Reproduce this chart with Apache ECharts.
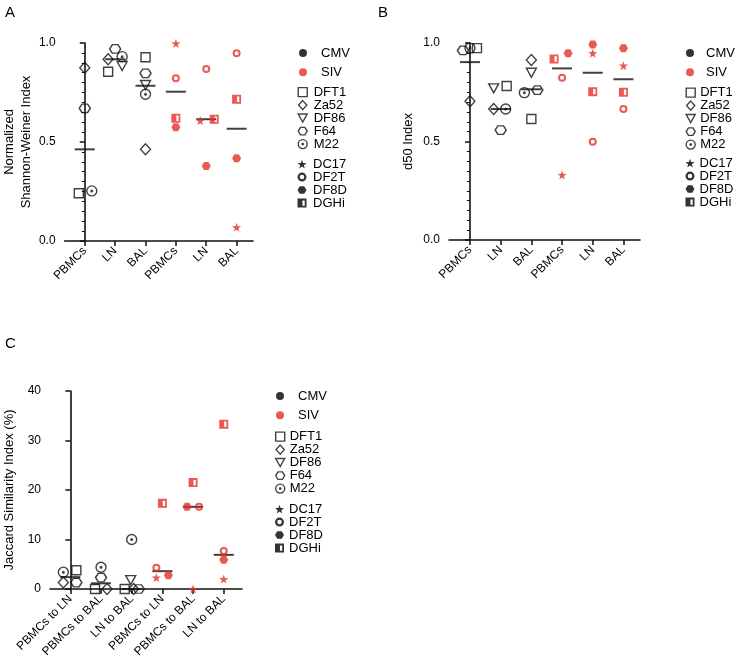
<!DOCTYPE html>
<html><head><meta charset="utf-8">
<script src="https://cdn.jsdelivr.net/npm/echarts@6/dist/echarts.min.js"></script>
<style>html,body{margin:0;padding:0;background:#fff}#c{width:740px;height:666px}</style>
</head><body><div id="c"></div>
<script>
// ---------- categories & tick labels ----------
const catsAB = ['PBMCs', 'LN', 'BAL', 'PBMCs', 'LN', 'BAL'];
const catsC = ['PBMCs to LN', 'PBMCs to BAL', 'LN to BAL', 'PBMCs to LN', 'PBMCs to BAL', 'LN to BAL'];
const ticksA = [0.0, 0.5, 1.0];
const ticksB = [0.0, 0.5, 1.0];
const ticksC = [0, 10, 20, 30, 40];
const cmvAnimals = ['DFT1', 'Za52', 'DF86', 'F64', 'M22'];
const sivAnimals = ['DC17', 'DF2T', 'DF8D', 'DGHi'];
const groups = ['CMV', 'SIV'];

// ---------- Panel A: Normalized Shannon-Weiner Index ----------
const A_DFT1 = [0.241, 0.855, 0.928, null, null, null];
const A_Za52 = [0.875, 0.918, 0.463, null, null, null];
const A_DF86 = [null, 0.884, 0.788, null, null, null];
const A_F64  = [0.670, 0.970, 0.847, null, null, null];
const A_M22  = [0.253, 0.931, 0.741, null, null, null];
const A_DC17 = [null, null, null, 0.998, 0.608, 0.069];
const A_DF2T = [null, null, null, 0.822, 0.869, 0.948];
const A_DF8D = [null, null, null, 0.574, 0.379, 0.418];
const A_DGHi = [null, null, null, 0.620, 0.615, 0.716];
const A_median = [0.463, 0.918, 0.784, 0.754, 0.615, 0.567];

// ---------- Panel B: d50 Index ----------
const B_DFT1 = [0.974, 0.782, 0.614, null, null, null];
const B_Za52 = [0.704, 0.665, 0.914, null, null, null];
const B_DF86 = [null, 0.770, 0.849, null, null, null];
const B_F64  = [0.962, 0.558, 0.761, null, null, null];
const B_M22  = [0.974, 0.665, 0.748, null, null, null];
const B_DC17 = [null, null, null, 0.330, 0.948, 0.885];
const B_DF2T = [null, null, null, 0.824, 0.499, 0.665];
const B_DF8D = [null, null, null, 0.948, 0.993, 0.973];
const B_DGHi = [null, null, null, 0.919, 0.753, 0.750];
const B_median = [0.903, 0.665, 0.765, 0.871, 0.849, 0.816];

// ---------- Panel C: Jaccard Similarity Index (%) ----------
const C_DFT1 = [3.8, 0.0, 0.0, null, null, null];
const C_Za52 = [1.3, 0.0, 0.0, null, null, null];
const C_DF86 = [null, null, 1.8, null, null, null];
const C_F64  = [1.3, 2.3, 0.0, null, null, null];
const C_M22  = [3.4, 4.4, 10.0, null, null, null];
const C_DC17 = [null, null, null, 2.3, 0.0, 2.0];
const C_DF2T = [null, null, null, 4.3, 16.6, 7.7];
const C_DF8D = [null, null, null, 2.8, 16.6, 5.9];
const C_DGHi = [null, null, null, 17.3, 21.5, 33.3];
const C_median = [2.4, 1.15, 0.0, 3.6, 16.6, 6.9];

// ---------- styling / jitter (pixel offsets, not data) ----------
const RED = '#e5312b';
const INK = '#111';
const FONT = 'Liberation Sans, Arial, sans-serif';
const jitA = {
  DFT1: [-6, -7, 0, 0, 0, 0], Za52: [0, -7, 0, 0, 0, 0], DF86: [0, 7, 0, 0, 0, 0],
  F64: [0, 0, 0, 0, 0, 0], M22: [7, 7, 0, 0, 0, 0],
  DC17: [0, 0, 0, 0, -6, 0], DF2T: [0, 0, 0, 0, 0, 0], DF8D: [0, 0, 0, 0, 0, 0], DGHi: [0, 0, 0, 0, 8, 0]
};
const jitB = {
  DFT1: [7, 6, 0, 0, 0, 0], Za52: [0, -7, 0, 0, 0, 0], DF86: [0, -7, 0, 0, 0, 0],
  F64: [-7, 0, 6, 0, 0, 0], M22: [0, 5, -7, 0, 0, 0],
  DC17: [0, 0, 0, 0, 0, 0], DF2T: [0, 0, 0, 0, 0, 0], DF8D: [0, 0, 0, 6, 0, 0], DGHi: [0, 0, 0, -8, 0, 0]
};
const jitC = {
  DFT1: [6, -6, -7, 0, 0, 0], Za52: [-7, 6, 2, 0, 0, 0], DF86: [0, 0, -1, 0, 0, 0],
  F64: [6, 0, 7, 0, 0, 0], M22: [-7, 0, 0, 0, 0, 0],
  DC17: [0, 0, 0, -6, 0, 0], DF2T: [0, 0, 0, -6, 6, 0], DF8D: [0, 0, 0, 6, -6, 0], DGHi: [0, 0, 0, 0, 0, 0]
};

function starPath() {
  let d = '';
  for (let k = 0; k < 10; k++) {
    const r = k % 2 ? 4.1 : 10;
    const a = -Math.PI / 2 + k * Math.PI / 5;
    d += (k ? 'L' : 'M') + (10 + r * Math.cos(a)).toFixed(2) + ',' + (10 + r * Math.sin(a)).toFixed(2);
  }
  return 'path://' + d + 'Z';
}
const HEX = 'path://M3,0L9,0L12,5L9,10L3,10L0,5Z';
const CDOT = 'path://M0,5A5,5 0 1,1 10,5A5,5 0 1,1 0,5Z M4.2,5A0.8,0.8 0 1,1 5.8,5A0.8,0.8 0 1,1 4.2,5Z';
const RING = 'path://M0,5A5,5 0 1,1 10,5A5,5 0 1,1 0,5Z M2.5,5A2.5,2.5 0 1,0 7.5,5A2.5,2.5 0 1,0 2.5,5Z';
const TRI = 'path://M0,0L10,0L5,9Z';
const DGH = 'path://M0,0L10,0L10,10L0,10Z M5.5,2L5.5,8L8,8L8,2Z';
const SQ = 'path://M0,0L10,0L10,10L0,10Z';
const DIA = 'path://M5,0L10,5.5L5,11L0,5.5Z';
const STAR = starPath();
const OPEN = { color: 'rgba(0,0,0,0)', borderColor: INK, borderWidth: 1.4 };
const SYM = {
  DFT1: { symbol: SQ, size: 9, open: true },
  Za52: { symbol: DIA, size: [10, 11], open: true },
  DF86: { symbol: TRI, size: [10, 9], open: true },
  F64: { symbol: HEX, size: [11, 8.5], open: true },
  M22: { symbol: CDOT, size: 10, open: true },
  DC17: { symbol: STAR, size: 9, open: false },
  DF2T: { symbol: RING, size: 8, open: false },
  DF8D: { symbol: HEX, size: [9, 8], open: false },
  DGHi: { symbol: DGH, size: 9, open: false }
};

function pts(vals, offs) {
  const out = [];
  vals.forEach((v, i) => {
    if (v === null) return;
    out.push({ value: [i, v], symbolOffset: [offs[i], 0] });
  });
  return out;
}

const panels = [
  { data: { DFT1: A_DFT1, Za52: A_Za52, DF86: A_DF86, F64: A_F64, M22: A_M22, DC17: A_DC17, DF2T: A_DF2T, DF8D: A_DF8D, DGHi: A_DGHi }, median: A_median, jit: jitA },
  { data: { DFT1: B_DFT1, Za52: B_Za52, DF86: B_DF86, F64: B_F64, M22: B_M22, DC17: B_DC17, DF2T: B_DF2T, DF8D: B_DF8D, DGHi: B_DGHi }, median: B_median, jit: jitB },
  { data: { DFT1: C_DFT1, Za52: C_Za52, DF86: C_DF86, F64: C_F64, M22: C_M22, DC17: C_DC17, DF2T: C_DF2T, DF8D: C_DF8D, DGHi: C_DGHi }, median: C_median, jit: jitC }
];

const series = [];
series.push({ name: 'CMV', type: 'scatter', data: [], symbol: 'circle', itemStyle: { color: '#000' } });
series.push({ name: 'SIV', type: 'scatter', data: [], symbol: 'circle', itemStyle: { color: RED } });
panels.forEach((p, pi) => {
  series.push({
    name: 'median' + pi, type: 'scatter', xAxisIndex: pi, yAxisIndex: pi,
    symbol: 'rect', symbolSize: [20, 2], itemStyle: { color: INK }, z: 1,
    data: pts(p.median, [0, 0, 0, 0, 0, 0]), silent: true
  });
  cmvAnimals.concat(sivAnimals).forEach(a => {
    const s = SYM[a];
    const isSiv = sivAnimals.indexOf(a) >= 0;
    const col = isSiv ? RED : INK;
    series.push({
      name: a, type: 'scatter', xAxisIndex: pi, yAxisIndex: pi, z: 3,
      symbol: s.symbol, symbolSize: s.size,
      itemStyle: s.open ? { color: 'rgba(0,0,0,0)', borderColor: col, borderWidth: 1.4 } : { color: col, borderWidth: 0 },
      data: pts(p.data[a], p.jit[a])
    });
  });
});

const grids = [
  { left: 57, top: 43, width: 196, height: 198 },
  { left: 449, top: 43, width: 191, height: 197 },
  { left: 48, top: 391, width: 194, height: 198 }
];
const xr = [[-0.665, 5.54], [-0.684, 5.54], [-0.663, 5.595]];
const cats = [catsAB, catsAB, catsC];
const idx = [0, 1, 2, 3, 4, 5];
const xAxes = grids.map((g, i) => ({
  type: 'value', gridIndex: i, min: xr[i][0], max: xr[i][1],
  axisLine: { show: true, onZero: false, lineStyle: { color: INK, width: 1.6 } },
  axisTick: { show: true, customValues: idx, length: 5, lineStyle: { color: INK, width: 1.5 } },
  axisLabel: { customValues: idx, rotate: 45, margin: 8, fontSize: 12, color: '#000', fontFamily: FONT,
    formatter: v => cats[i][Math.round(v)] },
  splitLine: { show: false }
}));
const yNames = ['Normalized\nShannon-Weiner Index', 'd50 Index', 'Jaccard Similarity Index (%)'];
const yGaps = [24, 32, 32];
const yTicks = [ticksA, ticksB, ticksC];
const yAxes = grids.map((g, i) => ({
  type: 'value', gridIndex: i,
  min: yTicks[i][0], max: yTicks[i][yTicks[i].length - 1], interval: yTicks[i][1] - yTicks[i][0],
  name: yNames[i], nameLocation: 'middle', nameGap: yGaps[i],
  nameTextStyle: { fontSize: 13, color: '#000', fontFamily: FONT, lineHeight: 17 },
  axisLine: { show: true, lineStyle: { color: INK, width: 1.6 } },
  axisTick: { show: true, length: 5, lineStyle: { color: INK, width: 1.5 } },
  minorTick: { show: i < 2, splitNumber: 10, length: 3, lineStyle: { color: INK, width: 1 } },
  axisLabel: { margin: 9, fontSize: 12, color: '#000', fontFamily: FONT,
    formatter: v => i < 2 ? v.toFixed(1) : String(v) },
  splitLine: { show: false }
}));

// legends
const legendIcon = {
  DFT1: { icon: SQ, itemStyle: OPEN },
  Za52: { icon: DIA, itemStyle: OPEN },
  DF86: { icon: TRI, itemStyle: OPEN },
  F64: { icon: HEX, itemStyle: OPEN },
  M22: { icon: CDOT, itemStyle: OPEN },
  DC17: { icon: STAR, itemStyle: { color: '#000', borderWidth: 0 } },
  DF2T: { icon: RING, itemStyle: { color: '#000', borderWidth: 0 } },
  DF8D: { icon: HEX, itemStyle: { color: '#000', borderWidth: 0 } },
  DGHi: { icon: DGH, itemStyle: { color: '#000', borderWidth: 0 } }
};
const legendPos = [
  { mx: 303, cmv: 53, siv: 72, tg: 9, ax: 302, a1: 92, a2: 164, ag: 1.5 },
  { mx: 690, cmv: 53, siv: 72, tg: 7, ax: 690, a1: 92.5, a2: 163, ag: 0 },
  { mx: 280, cmv: 396, siv: 415, tg: 9, ax: 279.5, a1: 436.5, a2: 509, ag: 0 }
];
const LH = 12.8;
const legends = [];
legendPos.forEach(lp => {
  const common = { orient: 'vertical', padding: 0, selectedMode: false, itemGap: 0, symbolKeepAspect: true };
  const ts = pad => ({ fontSize: 13, color: '#000', fontFamily: FONT, lineHeight: LH, padding: [0, 0, 0, pad] });
  legends.push(Object.assign({}, common, {
    left: lp.mx - 4, top: lp.cmv - LH / 2, itemWidth: 8, itemHeight: 8, itemGap: (lp.siv - lp.cmv) - LH,
    textStyle: ts(lp.tg),
    data: [{ name: 'CMV', icon: 'circle', itemStyle: { color: '#000', borderWidth: 0 } },
           { name: 'SIV', icon: 'circle', itemStyle: { color: RED, borderWidth: 0 } }]
  }));
  legends.push(Object.assign({}, common, {
    left: lp.ax - 4.5, top: lp.a1 - LH / 2, itemWidth: 9, itemHeight: 9, textStyle: ts(lp.ag),
    data: cmvAnimals.map(a => Object.assign({ name: a }, legendIcon[a]))
  }));
  legends.push(Object.assign({}, common, {
    left: lp.ax - 4.5, top: lp.a2 - LH / 2, itemWidth: 9, itemHeight: 9, textStyle: ts(lp.ag),
    data: sivAnimals.map(a => Object.assign({ name: a }, legendIcon[a]))
  }));
});

const titleStyle = { fontSize: 15, fontWeight: 'normal', color: '#000', fontFamily: FONT };
const option = {
  animation: false,
  backgroundColor: '#fff',
  title: [
    { text: 'A', left: 5, top: 5, padding: 0, textStyle: titleStyle },
    { text: 'B', left: 378, top: 5, padding: 0, textStyle: titleStyle },
    { text: 'C', left: 5, top: 336, padding: 0, textStyle: titleStyle }
  ],
  legend: legends,
  grid: grids,
  xAxis: xAxes,
  yAxis: yAxes,
  series: series
};
const chart = echarts.init(document.getElementById('c'), null, { renderer: 'canvas' });
chart.setOption(option);
</script>
</body></html>
